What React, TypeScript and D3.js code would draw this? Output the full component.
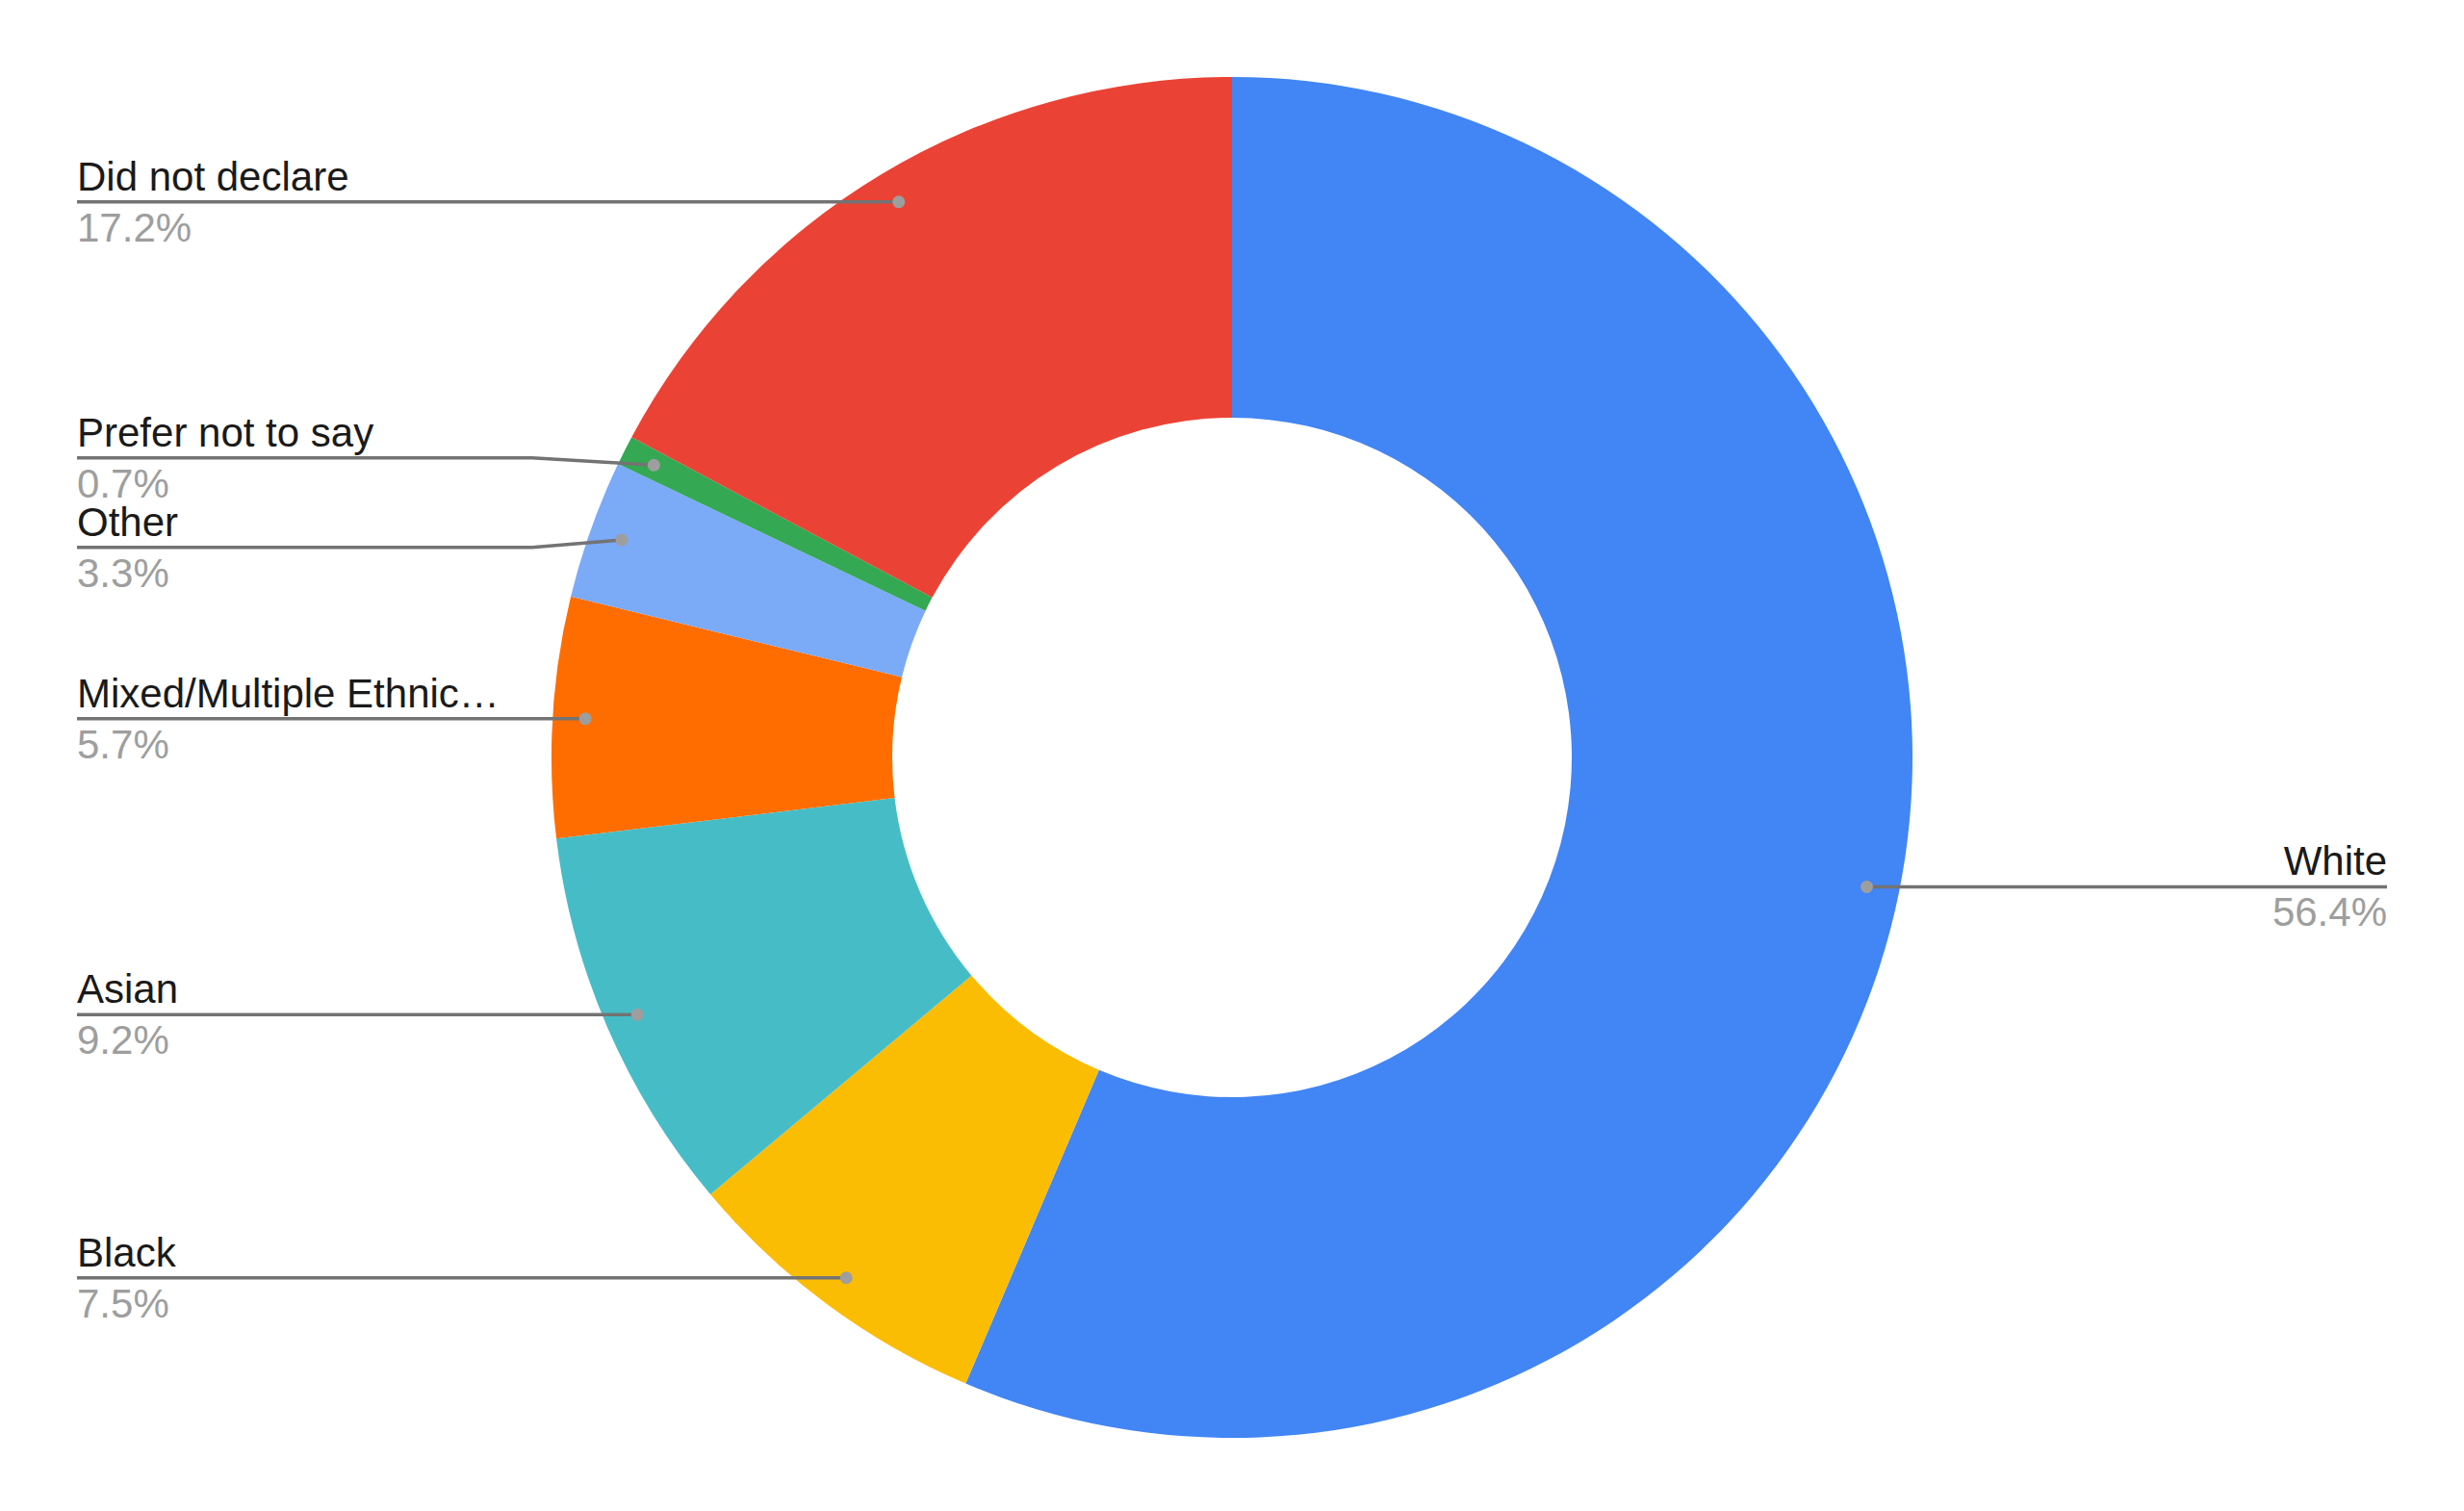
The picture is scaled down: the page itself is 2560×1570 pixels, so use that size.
import React from "react";
import * as d3 from "d3";

const categories = [
  "White",
  "Black",
  "Asian",
  "Mixed/Multiple Ethnic…",
  "Other",
  "Prefer not to say",
  "Did not declare",
];
const values = [56.4, 7.5, 9.2, 5.7, 3.3, 0.7, 17.2];
const colors = ["#4285f4", "#fbbc04", "#46bdc6", "#ff6d01", "#7baaf7", "#34a853", "#ea4335"];

const W = 2560;
const H = 1570;
const CX = 1280;
const CY = 787;
const R_OUT = 707;
const R_IN = 353;
const DOT_R = R_OUT * 0.952;
const LEFT_X = 80;
const RIGHT_X = 2480;
const MIN_GAP = 93;
const FONT = "'Liberation Sans', Arial, sans-serif";

type Item = { name: string; value: number; color: string };

export default function App() {
  const data: Item[] = categories.map((c, i) => ({ name: c, value: values[i], color: colors[i] }));
  const pie = d3
    .pie<Item>()
    .value((d) => d.value)
    .sort(null)
    .startAngle(0)
    .endAngle(2 * Math.PI);
  const arcs = pie(data);
  const arc = d3.arc<d3.PieArcDatum<Item>>().innerRadius(R_IN).outerRadius(R_OUT);

  const total = d3.sum(values);
  const labels = arcs.map((a) => {
    const mid = (a.startAngle + a.endAngle) / 2;
    const dx = CX + DOT_R * Math.sin(mid);
    const dy = CY - DOT_R * Math.cos(mid);
    return {
      a,
      mid,
      dx,
      dy,
      y: dy,
      left: Math.sin(mid) < 0,
      pct: ((a.data.value / total) * 100).toFixed(1) + "%",
    };
  });

  // resolve overlaps on each side
  [true, false].forEach((side) => {
    const group = labels.filter((l) => l.left === side).sort((p, q) => p.y - q.y);
    for (let iter = 0; iter < 200; iter++) {
      let moved = false;
      for (let i = 0; i < group.length - 1; i++) {
        const gap = group[i + 1].y - group[i].y;
        if (gap < MIN_GAP - 0.01) {
          const push = (MIN_GAP - gap) / 2;
          group[i].y -= push;
          group[i + 1].y += push;
          moved = true;
        }
      }
      if (!moved) break;
    }
  });

  const bendLeft = CX - R_OUT - 20;
  const bendRight = CX + R_OUT + 20;

  return (
    <svg
      width={W}
      height={H}
      style={{ position: "absolute", left: 0, top: 0, background: "#fff" }}
      fontFamily={FONT}
    >
      <rect width={W} height={H} fill="#fff" />
      <g transform={`translate(${CX},${CY})`}>
        {arcs.map((a, i) => (
          <path key={i} d={arc(a) || ""} fill={a.data.color} />
        ))}
      </g>
      {labels.map((l, i) => {
        const endX = l.left ? LEFT_X : RIGHT_X;
        const bx = l.left ? bendLeft : bendRight;
        const shifted = Math.abs(l.y - l.dy) > 0.5;
        const pts = shifted
          ? `${endX},${l.y} ${bx},${l.y} ${l.dx},${l.dy}`
          : `${endX},${l.y} ${l.dx},${l.dy}`;
        return (
          <g key={i}>
            <polyline points={pts} fill="none" stroke="#737373" strokeWidth={3.5} />
            <circle cx={l.dx} cy={l.dy} r={6.5} fill="#9e9e9e" />
            <text
              x={endX}
              y={l.y - 12}
              fontSize={42}
              fill="#1a1a1a"
              textAnchor={l.left ? "start" : "end"}
            >
              {l.a.data.name}
            </text>
            <text
              x={endX}
              y={l.y + 41}
              fontSize={42}
              fill="#9e9e9e"
              textAnchor={l.left ? "start" : "end"}
            >
              {l.pct}
            </text>
          </g>
        );
      })}
    </svg>
  );
}
